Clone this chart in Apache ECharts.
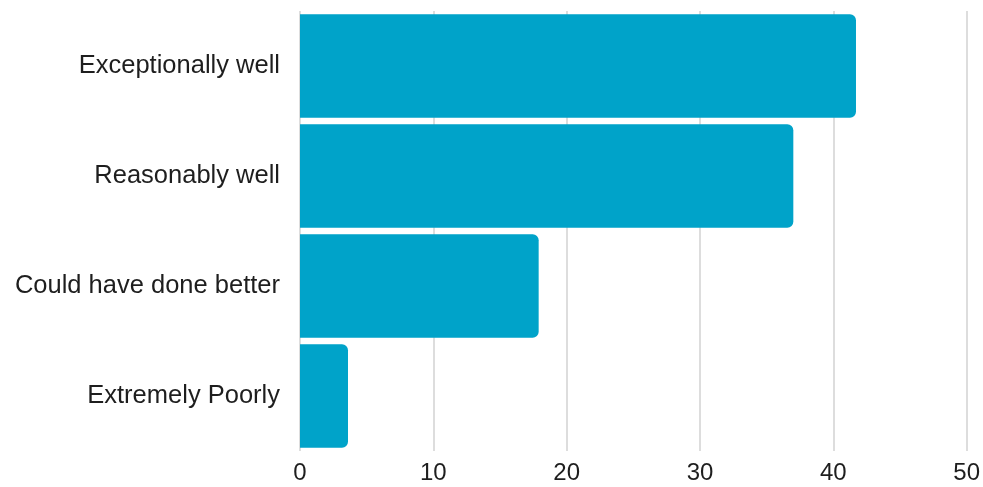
<!DOCTYPE html>
<html><head><meta charset="utf-8">
<script src="https://cdn.jsdelivr.net/npm/echarts@6/dist/echarts.min.js"></script>
<style>html,body{margin:0;padding:0;background:#fff}#c{width:983px;height:487px}</style>
</head><body><div id="c"></div>
<script>
const categories = ["Exceptionally well", "Reasonably well", "Could have done better", "Extremely Poorly"];
const values = [41.7, 37.0, 17.9, 3.6];
const xTicks = [0, 10, 20, 30, 40, 50];

const chart = echarts.init(document.getElementById('c'));
chart.setOption({
  animation: false,
  grid: { left: 300, right: 15, top: 11, bottom: 36 },
  xAxis: {
    type: 'value', min: xTicks[0], max: xTicks[xTicks.length - 1], interval: 10,
    axisLine: { show: false }, axisTick: { show: false },
    splitLine: { lineStyle: { color: '#dddddd', width: 2 } },
    axisLabel: { fontFamily: 'Liberation Sans', fontSize: 24, color: '#1e1e1e', margin: 10 }
  },
  yAxis: {
    type: 'category', data: categories, inverse: true,
    axisLine: { show: false }, axisTick: { show: false },
    axisLabel: { fontFamily: 'Liberation Sans', fontSize: 25.5, color: '#1e1e1e', margin: 20 }
  },
  series: [{
    type: 'bar', data: values, barCategoryGap: '6%',
    itemStyle: { color: '#00A3C9', borderRadius: [0, 6, 6, 0] }
  }]
});
</script></body></html>
